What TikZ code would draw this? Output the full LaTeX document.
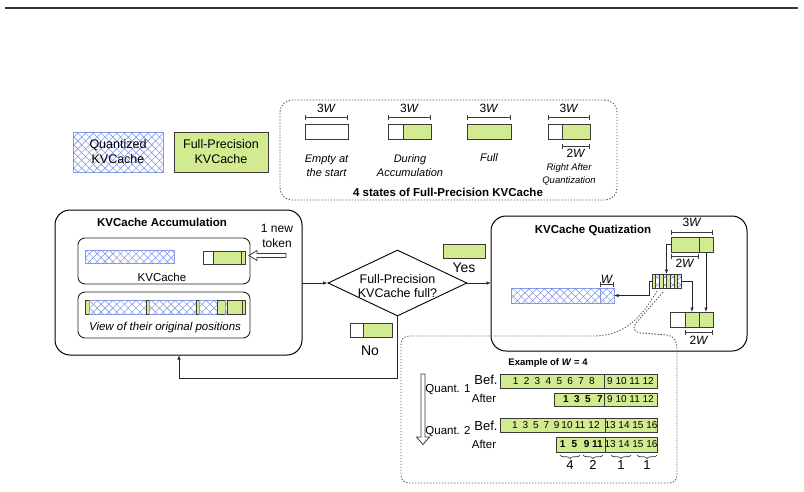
\documentclass[tikz,border=0pt]{standalone}
\usepackage{fontspec}
\setmainfont{Liberation Sans}
\usetikzlibrary{patterns.meta,arrows.meta,decorations.pathreplacing,calc,shapes.geometric}
\definecolor{fpgreen}{HTML}{D2EA90}
\definecolor{hatchc}{HTML}{7086E6}
\definecolor{hatchb}{HTML}{8A9DE6}
\definecolor{edgec}{HTML}{3A3A3A}
\definecolor{dotc}{HTML}{555555}
\newcommand{\mkbox}[6]{\node[#1, minimum width={#5-#3}, minimum height={#6-#4}] (#2) at (#3,#4) {};}
\newcommand{\fz}[2]{\fontsize{#1}{#2}\selectfont}
\begin{document}
\begin{tikzpicture}[x=1pt,y=-1pt,
  cell/.style={rectangle, inner sep=0pt, outer sep=0pt, anchor=north west, line width=0.7pt},
  fp/.style={cell, fill=fpgreen, draw=edgec},
  emp/.style={cell, fill=white, draw=edgec},
  qz/.style={cell, draw=hatchb, fill=white,
     postaction={pattern={Lines[angle=45,distance=5.5pt,line width=0.45pt]}, pattern color=hatchc},
     postaction={pattern={Lines[angle=-45,distance=5.5pt,line width=0.45pt]}, pattern color=hatchc}},
  panel/.style={cell, draw=black, line width=1pt, rounded corners=15pt},
  innerbox/.style={cell, draw=black!85, line width=0.9pt, rounded corners=7pt},
  dotbox/.style={draw=dotc, line width=0.9pt, dash pattern=on 1.3pt off 1.7pt},
  dim/.style={draw=edgec, line width=0.8pt, arrows={Bar[width=5pt]-Bar[width=5pt]}},
  arr/.style={draw=black!85, line width=0.8pt, -{Latex[length=4.5pt,width=3.5pt]}},
  lbl/.style={inner sep=0pt, align=center},
  wl/.style={lbl, font=\fz{12}{14}},
  num/.style={inner sep=0pt, font=\fz{10}{12}},
  bnum/.style={inner sep=0pt, font=\fz{10}{12}\bfseries},
  brc/.style={decorate, decoration={brace, mirror, amplitude=3.5pt}, line width=0.7pt, draw=edgec},
  outarrow/.style={fill=white, draw=edgec, line width=0.8pt}
]
\fill[white] (0,0) rectangle (804,491);
\useasboundingbox (0,0) rectangle (804,491);

% top rule
\draw[line width=2pt, black!80] (5,7.5) -- (798,7.5);

% legend
\node[qz, minimum width=90, minimum height=40, font=\fz{12.5}{15}, align=center] (legq) at (73,132) {Quantized\\KVCache};
\node[fp, minimum width=94, minimum height=40, font=\fz{12.5}{15}, align=center] (legf) at (174,132) {Full-Precision\\KVCache};

% four states
\node[cell, dotbox, rounded corners=12pt, minimum width=337, minimum height=100] (states) at (280,100) {};
\mkbox{emp}{sa}{305}{124}{348}{139}
\mkbox{emp}{sbw}{388}{124}{403}{139}
\mkbox{fp}{sbg}{403}{124}{431}{139}
\mkbox{fp}{sc}{467}{124}{511}{139}
\mkbox{emp}{sdw}{548}{124}{562}{139}
\mkbox{fp}{sdg}{562}{124}{590}{139}
\draw[dim] ([yshift=7pt]sa.north west) -- ([yshift=7pt]sa.north east) node[midway, above=3.5pt, wl] {3\textit{W}};
\draw[dim] ([yshift=7pt]sbw.north west) -- ([yshift=7pt]sbg.north east) node[midway, above=3.5pt, wl] {3\textit{W}};
\draw[dim] ([yshift=7pt]sc.north west) -- ([yshift=7pt]sc.north east) node[midway, above=3.5pt, wl] {3\textit{W}};
\draw[dim] ([yshift=7pt]sdw.north west) -- ([yshift=7pt]sdg.north east) node[midway, above=3.5pt, wl] {3\textit{W}};
\draw[dim] ([yshift=-7pt]sdg.south west) -- ([yshift=-7pt]sdg.south east) node[midway, below=3pt, wl] {2\textit{W}};
\node[lbl, font=\fz{11}{14}\itshape] (ls1) at (326.5,165.5) {Empty at\\the start};
\node[lbl, font=\fz{11}{14}\itshape] (ls2) at (410,165.5) {During\\Accumulation};
\node[lbl, font=\fz{11}{14}\itshape] (ls3) at (489,158) {Full};
\node[lbl, font=\fz{9.5}{13}\itshape] (ls4) at (569,174.5) {Right After\\Quantization};
\node[lbl, font=\fz{11.5}{14}\bfseries] (lst) at (448,192) {4 states of Full-Precision KVCache};

% accumulation panel
\node[panel, minimum width=247, minimum height=145] (acc) at (55,210) {};
\node[lbl, font=\fz{11.5}{14}\bfseries] (acct) at (162,222) {KVCache Accumulation};
\node[innerbox, minimum width=172, minimum height=46] (in1) at (78,238) {};
\mkbox{qz}{q1}{85}{250}{174}{263}
\mkbox{emp}{k1}{203}{251}{213}{264}
\mkbox{fp}{k2}{213}{251}{241.5}{264}
\mkbox{fp}{k3}{241.5}{251}{245}{264}
\node[lbl, font=\fz{11.5}{14}] (kvl) at (162,277) {KVCache};
\node[innerbox, minimum width=172, minimum height=46] (in2) at (78,292) {};
\mkbox{fp}{v1}{85}{300}{89}{314}
\mkbox{qz}{v2}{89}{300}{146}{314}
\mkbox{fp}{v3}{146}{300}{149.5}{314}
\mkbox{qz}{v4}{149.5}{300}{196}{314}
\mkbox{fp}{v5}{196}{300}{199.5}{314}
\mkbox{qz}{v6}{199.5}{300}{217}{314}
\mkbox{fp}{v7}{217}{300}{225}{314}
\mkbox{qz}{v8}{225}{300}{227.5}{314}
\mkbox{fp}{v9}{227.5}{300}{242}{314}
\mkbox{fp}{v10}{242}{300}{245}{314}
\node[lbl, font=\fz{11.5}{14}\itshape] (vl) at (165,328) {View of their original positions};
% new token arrow
\coordinate (tok) at (249,255.5);
\draw[outarrow] (tok) -- ++(8,-5) -- ++(0,3) -- ++(29,0) -- ++(0,4) -- ++(-29,0) -- ++(0,3) -- cycle;
\node[lbl, font=\fz{12}{15}] (tokl) at (277,235.5) {1 new\\token};

% decision
\node[diamond, draw=black, line width=0.9pt, minimum width=139, minimum height=66, inner sep=0pt] (dia) at (397.5,283) {};
\node[lbl, font=\fz{12.5}{14}] (dial) at (397.5,286) {Full-Precision\\KVCache full?};
\mkbox{fp}{yb}{443}{244}{485}{258}
\node[lbl, font=\fz{14}{16}] (yl) at (464,268) {Yes};
\mkbox{emp}{nb1}{350}{323}{363}{337}
\mkbox{fp}{nb2}{363}{323}{392}{337}
\node[lbl, font=\fz{14}{16}] (nl) at (370,351) {No};

% quantization panel
\node[panel, minimum width=256, minimum height=135] (quant) at (491,216) {};
\node[lbl, font=\fz{11.5}{14}\bfseries] (qt) at (593,230) {KVCache Quatization};
\mkbox{fp}{ta}{671}{237}{699}{252}
\mkbox{fp}{tb}{699}{237}{713}{252}
\draw[dim] ([yshift=5pt]ta.north west) -- ([yshift=5pt]tb.north east) node[midway, above=4.5pt, wl] {3\textit{W}};
\draw[dim] ([yshift=-4pt]ta.south west) -- ([yshift=-4pt]ta.south east) node[midway, below=2.5pt, wl] {2\textit{W}};
\mkbox{qz}{st}{652}{274}{681}{288}
\foreach \i in {0,2,4,6} \fill[fpgreen] ($(st.north west)+(\i*3.625,0)$) rectangle ++(3.625,14);
\foreach \i in {1,...,7} \draw[edgec, line width=0.5pt] ($(st.north west)+(\i*3.625,0)$) -- ++(0,14);
\draw[edgec, line width=0.7pt] (st.north west) rectangle (st.south east);
\mkbox{qz}{hb1}{511}{288}{600}{303}
\mkbox{qz}{hb2}{600}{288}{614}{303}
\draw[dim] ([yshift=4pt]hb2.north west) -- ([yshift=4pt]hb2.north east) node[midway, above=0.5pt, wl] {\textit{W}};
\mkbox{emp}{ua}{670}{312}{685}{327}
\mkbox{fp}{ub}{685}{312}{699}{327}
\mkbox{fp}{uc}{699}{312}{713}{327}
\draw[dim] ([yshift=-5pt]ub.south west) -- ([yshift=-5pt]uc.south east) node[midway, below=3.5pt, wl] {2\textit{W}};
\draw[arr] (ta.west) -| (st.north);
\draw[arr] (tb.south) -- (uc.north);
\draw[arr] (st.east) -| (ub.north);
\draw[arr] (st.west) -- ++(-3,0) |- (hb2.east);

% main connectors
\draw[arr] (dia.west -| acc.east) -- (dia.west);
\draw[arr] (dia.east) -- (dia.east -| quant.west);
\coordinate (nc) at (179,378);
\draw[arr] (dia.south) |- (nc) -- (nc |- acc.south);

% example callout
\draw[dotbox] (657,291) .. controls (642,316) and (626,336) .. (593,336) -- (410,336)
  .. controls (404,336) and (401,339) .. (401,345) -- (401,475)
  .. controls (401,480) and (404,483) .. (409,483) -- (669,483)
  .. controls (674,483) and (677,480) .. (677,475) -- (677,348)
  .. controls (677,341) and (674,336) .. (667,335) -- (641,333)
  .. controls (634,332) and (632,328) .. (636,323) -- (664,291);
\node[lbl, font=\fz{9.5}{12}\bfseries] (ex) at (548,363) {Example of \textit{W} = 4};
\coordinate (da) at (421,374);
\draw[outarrow] (da) -- ++(4,0) -- ++(0,63) -- ++(4.5,0) -- ++(-6.5,7.5) -- ++(-6.5,-7.5) -- ++(4.5,0) -- cycle;
\node[lbl, font=\fz{11.5}{14}] (q1l) at (448,390) {Quant. 1};
\node[lbl, font=\fz{11.5}{14}] (q2l) at (448,432) {Quant. 2};
\node[lbl, font=\fz{13}{15}] (bf1) at (486,380) {Bef.};
\node[lbl, font=\fz{11.5}{14}] (af1) at (484,398) {After};
\node[lbl, font=\fz{13}{15}] (bf2) at (486,426) {Bef.};
\node[lbl, font=\fz{11.5}{14}] (af2) at (484,444) {After};
\mkbox{fp}{r1a}{500}{374}{604}{388}
\mkbox{fp}{r1b}{604}{374}{657}{388}
\mkbox{fp}{r2a}{554}{393}{604}{406}
\mkbox{fp}{r2b}{604}{393}{657}{406}
\mkbox{fp}{r3a}{500}{418}{605}{432}
\mkbox{fp}{r3b}{605}{418}{657}{432}
\mkbox{fp}{r4a}{556}{437}{605}{452}
\mkbox{fp}{r4b}{605}{437}{657}{452}
\foreach \n/\x in {1/515.7,2/526.6,3/537.5,4/548.4,5/559.3,6/570.2,7/581.1,8/592}
  \node[num] at (\x,381) {\n};
\node[num] at (r1b) {9 10 11 12};
\foreach \n/\x in {1/566,3/577,5/588,7/600}
  \node[bnum] at (\x,399.5) {\n};
\node[num] at (r2b) {9 10 11 12};
\foreach \n/\x in {1/515,3/525.5,5/536,7/546.3,9/556.7,10/567,11/580,12/594}
  \node[num] at (\x,425) {\n};
\node[num] at (r3b) {13 14 15 16};
\foreach \n/\x in {1/562.7,5/574.3,9/586.7,11/597.3}
  \node[bnum] at (\x,444.5) {\n};
\node[num] at (r4b) {13 14 15 16};
\draw[brc] (560,455) -- (580,455) node[midway, below=5pt, lbl, font=\fz{13}{15}] {4};
\draw[brc] (583,455) -- (603,455) node[midway, below=5pt, lbl, font=\fz{13}{15}] {2};
\draw[brc] (611,455) -- (631,455) node[midway, below=5pt, lbl, font=\fz{13}{15}] {1};
\draw[brc] (637,455) -- (657,455) node[midway, below=5pt, lbl, font=\fz{13}{15}] {1};
\end{tikzpicture}
\end{document}
